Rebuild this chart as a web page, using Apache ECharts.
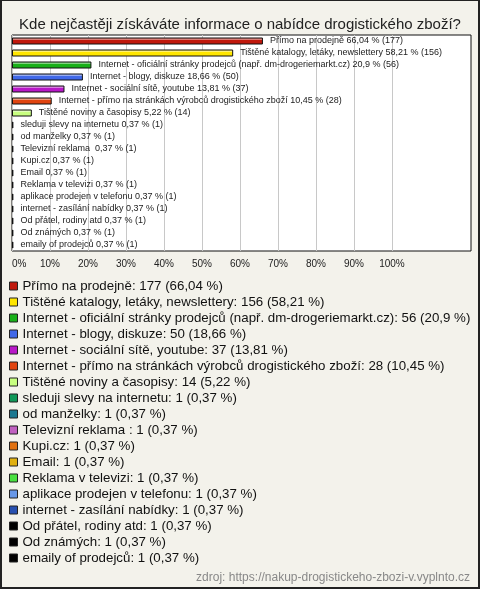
<!DOCTYPE html>
<html>
<head>
<meta charset="utf-8">
<script src="https://cdn.jsdelivr.net/npm/echarts@6/dist/echarts.min.js"></script>
<style>
html,body{margin:0;padding:0;background:#f3f2eb;}
#wrap{position:relative;width:480px;height:589px;}
#chart{position:absolute;left:0;top:0;width:480px;height:589px;}
#frame{position:absolute;left:0;top:0;width:480px;height:589px;box-sizing:border-box;border:1px solid #222;border-left-width:2px;border-right-width:2px;border-bottom-width:2px;pointer-events:none;}
</style>
</head>
<body>
<div id="wrap"><div id="chart"></div><div id="frame"></div></div>
<script>
const titleText = 'Kde nejčastěji získáváte informace o nabídce drogistického zboží?';
const sourceText = 'zdroj: https://nakup-drogistickeho-zbozi-v.vyplnto.cz';
const categories = [
  'Přímo na prodejně',
  'Tištěné katalogy, letáky, newslettery',
  'Internet - oficiální stránky prodejců (např. dm-drogeriemarkt.cz)',
  'Internet - blogy, diskuze',
  'Internet - sociální sítě, youtube',
  'Internet - přímo na stránkách výrobců drogistického zboží',
  'Tištěné noviny a časopisy',
  'sleduji slevy na internetu',
  'od manželky',
  'Televizní reklama ',
  'Kupi.cz',
  'Email',
  'Reklama v televizi',
  'aplikace prodejen v telefonu',
  'internet - zasílání nabídky',
  'Od přátel, rodiny atd',
  'Od známých',
  'emaily of prodejců'
];
const counts = [177,156,56,50,37,28,14,1,1,1,1,1,1,1,1,1,1,1];
const percents = [66.04,58.21,20.9,18.66,13.81,10.45,5.22,0.37,0.37,0.37,0.37,0.37,0.37,0.37,0.37,0.37,0.37,0.37];
const colors = ['#c0180c','#ffe600','#18b018','#4068e8','#b818c8','#e04410','#c8ff80','#109858','#1c7890','#c060c0','#e07010','#e0b010','#48e040','#6898e8','#2850b0','#000000','#000000','#000000'];
const tickMax = 100;
const tickStep = 10;

const FONT = "'Liberation Sans', Arial, sans-serif";
const fmt = v => String(v).replace('.', ',');

function lighten(hex, f) {
  const n = parseInt(hex.slice(1), 16);
  let r = (n >> 16) & 255, g = (n >> 8) & 255, b = n & 255;
  r = Math.round(r + (255 - r) * f); g = Math.round(g + (255 - g) * f); b = Math.round(b + (255 - b) * f);
  return 'rgb(' + r + ',' + g + ',' + b + ')';
}

const series = categories.map((name, i) => ({
  name: name,
  type: 'bar',
  stack: 'all',
  barWidth: 7,
  data: categories.map((_, j) => j === i ? percents[i] : '-'),
  itemStyle: {
    color: new echarts.graphic.LinearGradient(0, 0, 0, 1, [
      {offset: 0, color: lighten(colors[i], 0.45)},
      {offset: 0.3, color: lighten(colors[i], 0.45)},
      {offset: 0.31, color: colors[i]},
      {offset: 1, color: colors[i]}
    ]),
    borderColor: '#111',
    borderWidth: 1
  },
  label: {
    show: true,
    position: 'right',
    distance: 7,
    formatter: name + ' ' + fmt(percents[i]) + ' % (' + counts[i] + ')',
    fontFamily: FONT,
    fontSize: 9,
    color: '#222'
  },
  emphasis: {disabled: true}
}));

const splitColors = [];
for (let k = 0; k < 20; k++) splitColors.push(k * tickStep <= tickMax ? '#c8c8c8' : 'rgba(0,0,0,0)');

const chart = echarts.init(document.getElementById('chart'), null, {renderer: 'canvas'});
chart.setOption({
  backgroundColor: '#f3f2eb',
  animation: false,
  title: [{
    text: titleText,
    left: 'center',
    top: 12,
    textStyle: {fontFamily: FONT, fontSize: 15, fontWeight: 'normal', color: '#222'}
  }, {
    text: sourceText,
    right: 10,
    bottom: 5,
    padding: 0,
    textStyle: {fontFamily: FONT, fontSize: 12, fontWeight: 'normal', color: '#888'}
  }],
  grid: {
    left: 12, top: 35, width: 459, height: 216,
    show: true, backgroundColor: '#fff', borderColor: '#111', borderWidth: 1,
    containLabel: false
  },
  xAxis: {
    type: 'value',
    min: 0,
    max: 120.8,
    interval: tickStep,
    axisLine: {show: false},
    axisTick: {show: false},
    splitLine: {show: true, lineStyle: {color: splitColors, width: 1}},
    axisLabel: {
      fontFamily: FONT, fontSize: 10, color: '#222', margin: 8,
      alignMinLabel: 'left',
      formatter: v => (v <= tickMax && v % tickStep === 0) ? v + '%' : ''
    }
  },
  yAxis: {
    type: 'category',
    data: categories,
    inverse: true,
    axisLine: {show: false},
    axisTick: {show: false},
    axisLabel: {show: false},
    splitLine: {show: false}
  },
  legend: {
    orient: 'vertical',
    left: 9,
    top: 278,
    padding: 0,
    itemWidth: 8,
    itemHeight: 8,
    itemGap: 0,
    icon: 'rect',
    selectedMode: false,
    data: categories.map((n, i) => ({name: n, itemStyle: {color: colors[i], borderColor: '#222', borderWidth: 1}})),
    formatter: name => {
      const i = categories.indexOf(name);
      return name + ': ' + counts[i] + ' (' + fmt(percents[i]) + ' %)';
    },
    textStyle: {fontFamily: FONT, fontSize: 13.3, color: '#111', lineHeight: 16, padding: 0}
  },
  series: series
});
</script>
</body>
</html>
